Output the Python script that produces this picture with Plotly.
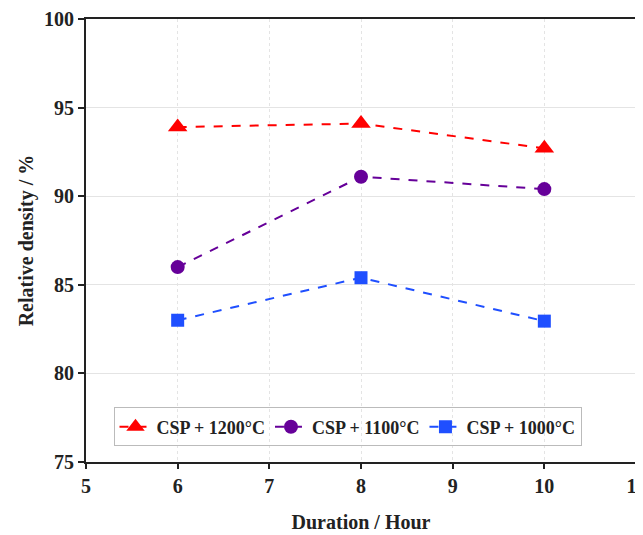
import plotly.graph_objects as go

duration = [6, 8, 10]
csp_1200 = [93.9, 94.1, 92.7]
csp_1100 = [86.0, 91.1, 90.4]
csp_1000 = [83.0, 85.4, 82.95]
series_names = ["CSP + 1200°C", "CSP + 1100°C", "CSP + 1000°C"]
colors = ["#ff0000", "#660099", "#1f4fff"]
symbols = ["triangle-up", "circle", "square"]
sizes = [17, 14, 13]

fig = go.Figure()
for name, vals, c, s, sz in zip(series_names, [csp_1200, csp_1100, csp_1000], colors, symbols, sizes):
    fig.add_trace(go.Scatter(
        x=duration, y=vals, name=name, mode="lines+markers",
        line=dict(color=c, width=2, dash="dash"),
        marker=dict(symbol=s, size=sz, color=c),
    ))

font_fam = "Liberation Serif"
fig.update_layout(
    width=643, height=535,
    margin=dict(l=78, r=15, t=11, b=81),
    paper_bgcolor="white", plot_bgcolor="white",
    font=dict(family=font_fam, size=18, color="#222"),
    showlegend=True,
    legend=dict(
        orientation="h", x=0.05, y=0.035, xanchor="left", yanchor="bottom",
        bordercolor="#bbb", borderwidth=1, bgcolor="rgba(255,255,255,0)",
        font=dict(family=font_fam, size=18, color="#222", weight="bold"),
        itemwidth=32, tracegroupgap=0,
    ),
    xaxis=dict(
        range=[5, 11], dtick=1, showline=True, linecolor="#222", linewidth=2,
        mirror=True, ticks="outside", ticklen=5, tickwidth=2, tickcolor="#222",
        showgrid=True, gridcolor="#e4e4e4", griddash="dot", gridwidth=1,
        zeroline=False, automargin=False, ticklabeloverflow="allow",
        tickfont=dict(family=font_fam, size=20, weight="bold"),
        title=dict(text="Duration / Hour", standoff=19,
                   font=dict(family=font_fam, size=20, weight="bold")),
    ),
    yaxis=dict(
        range=[75, 100], dtick=5, showline=True, linecolor="#222", linewidth=2,
        mirror=True, ticks="outside", ticklen=6, tickwidth=2, tickcolor="#222",
        showgrid=True, gridcolor="#e4e4e4", gridwidth=1,
        zeroline=False, automargin=False, ticklabeloverflow="allow",
        tickfont=dict(family=font_fam, size=20, weight="bold"),
        title=dict(text="Relative density / %", standoff=5,
                   font=dict(family=font_fam, size=20, weight="bold")),
    ),
)
fig.write_html("out.html")
